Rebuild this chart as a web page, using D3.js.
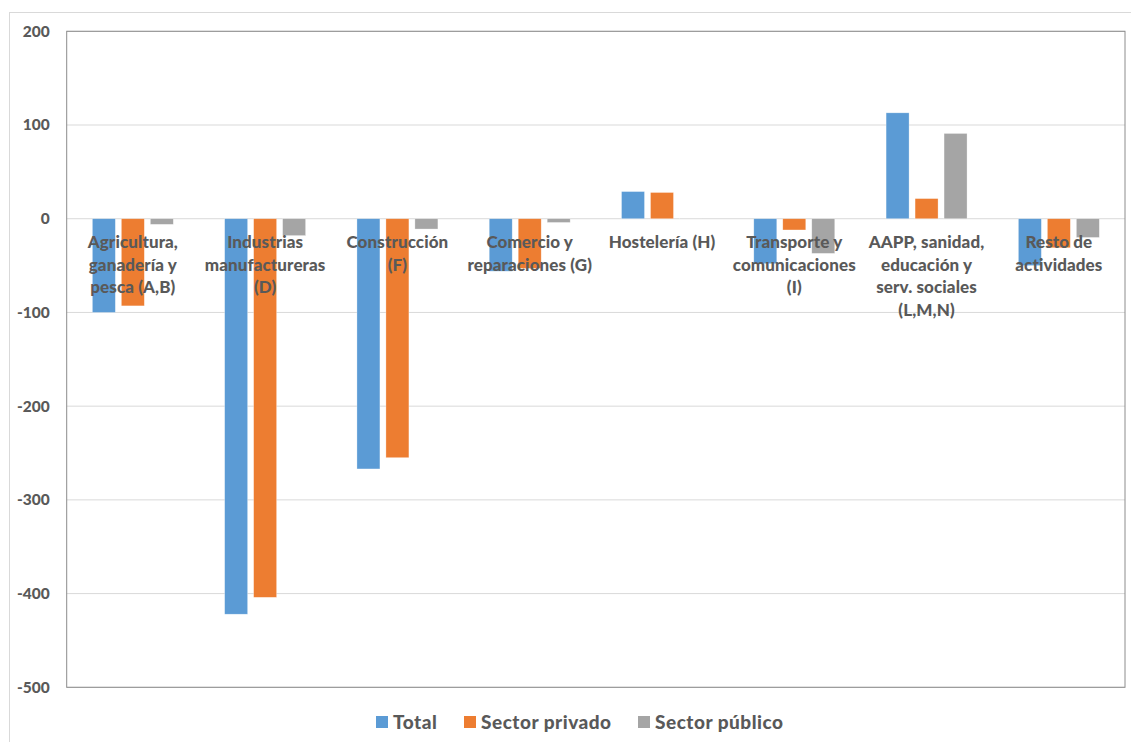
<!DOCTYPE html>
<html>
<head>
<meta charset="utf-8">
<script src="https://cdn.jsdelivr.net/npm/d3@7"></script>
<style>
  body { margin: 0; background: #fff; }
  svg text { font-family: Lato, "Open Sans", sans-serif; font-weight: 900; fill: #595959; }
</style>
</head>
<body>
<div id="chart"></div>
<script>
const categories = [
    ["Agricultura,", "ganadería y", "pesca (A,B)"],
    ["Industrias", "manufactureras", "(D)"],
    ["Construcción", "(F)"],
    ["Comercio y", "reparaciones (G)"],
    ["Hostelería (H)"],
    ["Transporte y", "comunicaciones", "(I)"],
    ["AAPP, sanidad,", "educación y", "serv. sociales", "(L,M,N)"],
    ["Resto de", "actividades"]
];
const seriesNames = ["Total", "Sector privado", "Sector público"];
const total = [-100, -422, -267, -56, 29, -48, 113, -50];
const privado = [-93, -404, -255, -53, 28, -12, 21.5, -31];
const publico = [-6, -18, -11, -4, 0.5, -37, 91, -20];
const yTicks = [200, 100, 0, -100, -200, -300, -400, -500];
const colors = ["#5B9BD5", "#ED7D31", "#A5A5A5"];

const width = 1131;
const height = 742;
const margin = { top: 31.3, right: 6, bottom: 54.7, left: 66.7 };

const svg = d3.select("#chart")
    .append("svg")
    .attr("width", width)
    .attr("height", height);

// outer chart frame
svg.append("rect")
    .attr("x", 9.5).attr("y", 12.5)
    .attr("width", width).attr("height", height)
    .attr("fill", "none")
    .attr("stroke", "#d9d9d9");

const idx = d3.range(categories.length);
const x = d3.scaleBand()
    .domain(idx)
    .range([margin.left, width - margin.right])
    .paddingInner(0.388)
    .paddingOuter(0.194);

const xs = d3.scaleBand()
    .domain(d3.range(3))
    .range([0, x.bandwidth()])
    .paddingInner(0.207);

const y = d3.scaleLinear()
    .domain([-500, 200])
    .range([height - margin.bottom, margin.top]);

// gridlines
svg.append("g")
    .selectAll("line")
    .data(yTicks)
    .join("line")
    .attr("x1", margin.left).attr("x2", width - margin.right)
    .attr("y1", d => y(d)).attr("y2", d => y(d))
    .attr("stroke", "#d9d9d9");

// bars
const values = [total, privado, publico];
values.forEach((vals, s) => {
    svg.append("g")
        .selectAll("rect")
        .data(vals)
        .join("rect")
        .attr("x", (d, i) => x(i) + xs(s))
        .attr("width", xs.bandwidth())
        .attr("y", d => y(Math.max(0, d)))
        .attr("height", d => Math.abs(y(d) - y(0)))
        .attr("fill", colors[s])
        .attr("stroke", "#fff")
        .attr("stroke-opacity", 0.5)
        .attr("stroke-width", 0.6);
});

// plot frame
svg.append("rect")
    .attr("x", margin.left).attr("y", margin.top)
    .attr("width", width - margin.right - margin.left)
    .attr("height", height - margin.bottom - margin.top)
    .attr("fill", "none")
    .attr("stroke", "#8c8c8c");

// y axis labels (plain hyphen for negatives, as in the original)
const yAxis = svg.append("g")
    .attr("transform", `translate(${margin.left},0)`)
    .call(d3.axisLeft(y).tickValues(yTicks).tickSize(0).tickPadding(17).tickFormat(d => String(d)));
yAxis.select(".domain").remove();
yAxis.selectAll("text")
    .attr("fill", "#595959")
    .style("font-size", "15.5px")
    .style("font-family", "Lato, sans-serif")
    .style("font-weight", "900");

// category labels
const lab = svg.append("g")
    .selectAll("text")
    .data(categories)
    .join("text")
    .attr("x", (d, i) => x(i) + x.bandwidth() / 2)
    .attr("y", 248)
    .attr("text-anchor", "middle")
    .style("font-size", "17px")
    .style("letter-spacing", "0.1px");
lab.selectAll("tspan")
    .data(d => d)
    .join("tspan")
    .attr("x", function () { return this.parentNode.getAttribute("x"); })
    .attr("dy", (d, i) => i === 0 ? 0 : 22.7)
    .text(d => d);

// legend
const legendX = [376, 464, 638];
const leg = svg.append("g")
    .selectAll("g")
    .data(seriesNames)
    .join("g")
    .attr("transform", (d, i) => `translate(${legendX[i]},716)`);
leg.append("rect")
    .attr("width", 12).attr("height", 12)
    .attr("fill", (d, i) => colors[i]);
leg.append("text")
    .attr("x", 17).attr("y", 13)
    .style("font-size", "19px")
    .style("letter-spacing", "0.5px")
    .text(d => d);
</script>
</body>
</html>
